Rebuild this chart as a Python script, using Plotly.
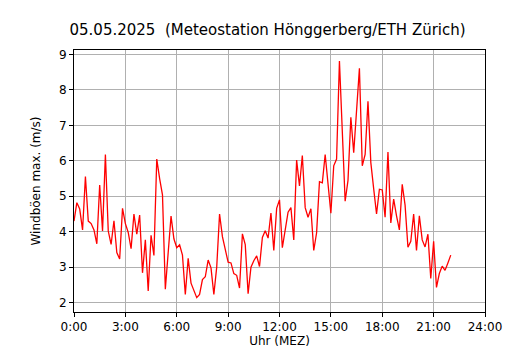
import plotly.graph_objects as go

# Wind gusts (m/s), 10-minute values from 0:00 to 22:00
gust = [
    4.30, 4.82, 4.64, 4.05, 5.56, 4.30, 4.23, 4.05, 3.66, 5.32, 4.02, 6.18,   # 0:00-1:50
    4.02, 3.64, 4.31, 3.41, 3.23, 4.66, 4.23, 3.98, 3.52, 4.50, 3.93, 4.47,   # 2:00-3:50
    2.84, 3.77, 2.33, 3.90, 3.33, 6.05, 5.50, 5.04, 2.38, 3.41, 4.44, 3.80,   # 4:00-5:50
    3.55, 3.63, 3.34, 2.23, 3.25, 2.55, 2.32, 2.14, 2.23, 2.65, 2.73, 3.20,   # 6:00-7:50
    2.98, 2.23, 3.00, 4.50, 3.86, 3.45, 3.14, 3.12, 2.82, 2.77, 2.41, 3.94,   # 8:00-9:50
    3.64, 2.25, 3.00, 3.18, 3.32, 3.02, 3.84, 4.03, 3.82, 4.53, 3.47, 4.66,   # 10:00-11:50
    4.90, 3.55, 4.00, 4.55, 4.68, 3.77, 6.02, 5.29, 6.15, 4.68, 4.41, 4.65,   # 12:00-13:50
    3.47, 3.97, 5.41, 5.38, 6.18, 5.27, 4.52, 5.86, 6.05, 8.82, 6.90, 4.86,   # 14:00-15:50
    5.45, 7.23, 6.23, 7.35, 8.61, 5.86, 6.18, 7.68, 5.95, 5.21, 4.50, 5.20,   # 16:00-17:50
    5.18, 4.41, 6.25, 4.25, 4.92, 4.45, 4.05, 5.34, 4.75, 3.56, 3.73, 4.50,   # 18:00-19:50
    3.47, 4.45, 3.77, 3.57, 3.93, 2.68, 3.73, 2.43, 2.82, 3.03, 2.91, 3.12,   # 20:00-21:50
    3.34,                                                                     # 22:00
]
hours = [i / 6 for i in range(len(gust))]

tick_vals = [0, 3, 6, 9, 12, 15, 18, 21, 24]
tick_text = ["0:00", "3:00", "6:00", "9:00", "12:00", "15:00", "18:00", "21:00", "24:00"]
y_ticks = [2, 3, 4, 5, 6, 7, 8, 9]

title = "05.05.2025  (Meteostation Hönggerberg/ETH Zürich)"
x_title = "Uhr (MEZ)"
y_title = "Windböen max. (m/s)"

font = "DejaVu Sans"

fig = go.Figure()
fig.add_trace(go.Scatter(x=hours, y=gust, mode="lines",
                         line=dict(color="red", width=1.3), hoverinfo="skip"))

axis_common = dict(
    showline=True, linecolor="black", linewidth=1, mirror=True,
    ticks="outside", ticklen=4, tickwidth=1, tickcolor="black",
    showgrid=True, gridcolor="#b0b0b0", gridwidth=1,
    zeroline=False, tickfont=dict(family=font, size=12, color="black"),
)

fig.update_layout(
    width=530, height=350,
    margin=dict(l=66, r=53, t=42, b=37),
    paper_bgcolor="white", plot_bgcolor="white",
    showlegend=False,
    title=dict(text=title, x=0.471, xref="paper", xanchor="center",
               y=1 - 22 / 350, yanchor="middle",
               font=dict(family=font, size=15, color="black")),
    xaxis=dict(range=[0, 24], tickvals=tick_vals, ticktext=tick_text,
               title=dict(text=x_title, standoff=3,
                          font=dict(family=font, size=12, color="black")),
               **axis_common),
    yaxis=dict(range=[1.735, 9.128], tickvals=y_ticks,
               title=dict(text=y_title, standoff=15,
                          font=dict(family=font, size=12, color="black")),
               **axis_common),
)

fig.write_html("out.html")
